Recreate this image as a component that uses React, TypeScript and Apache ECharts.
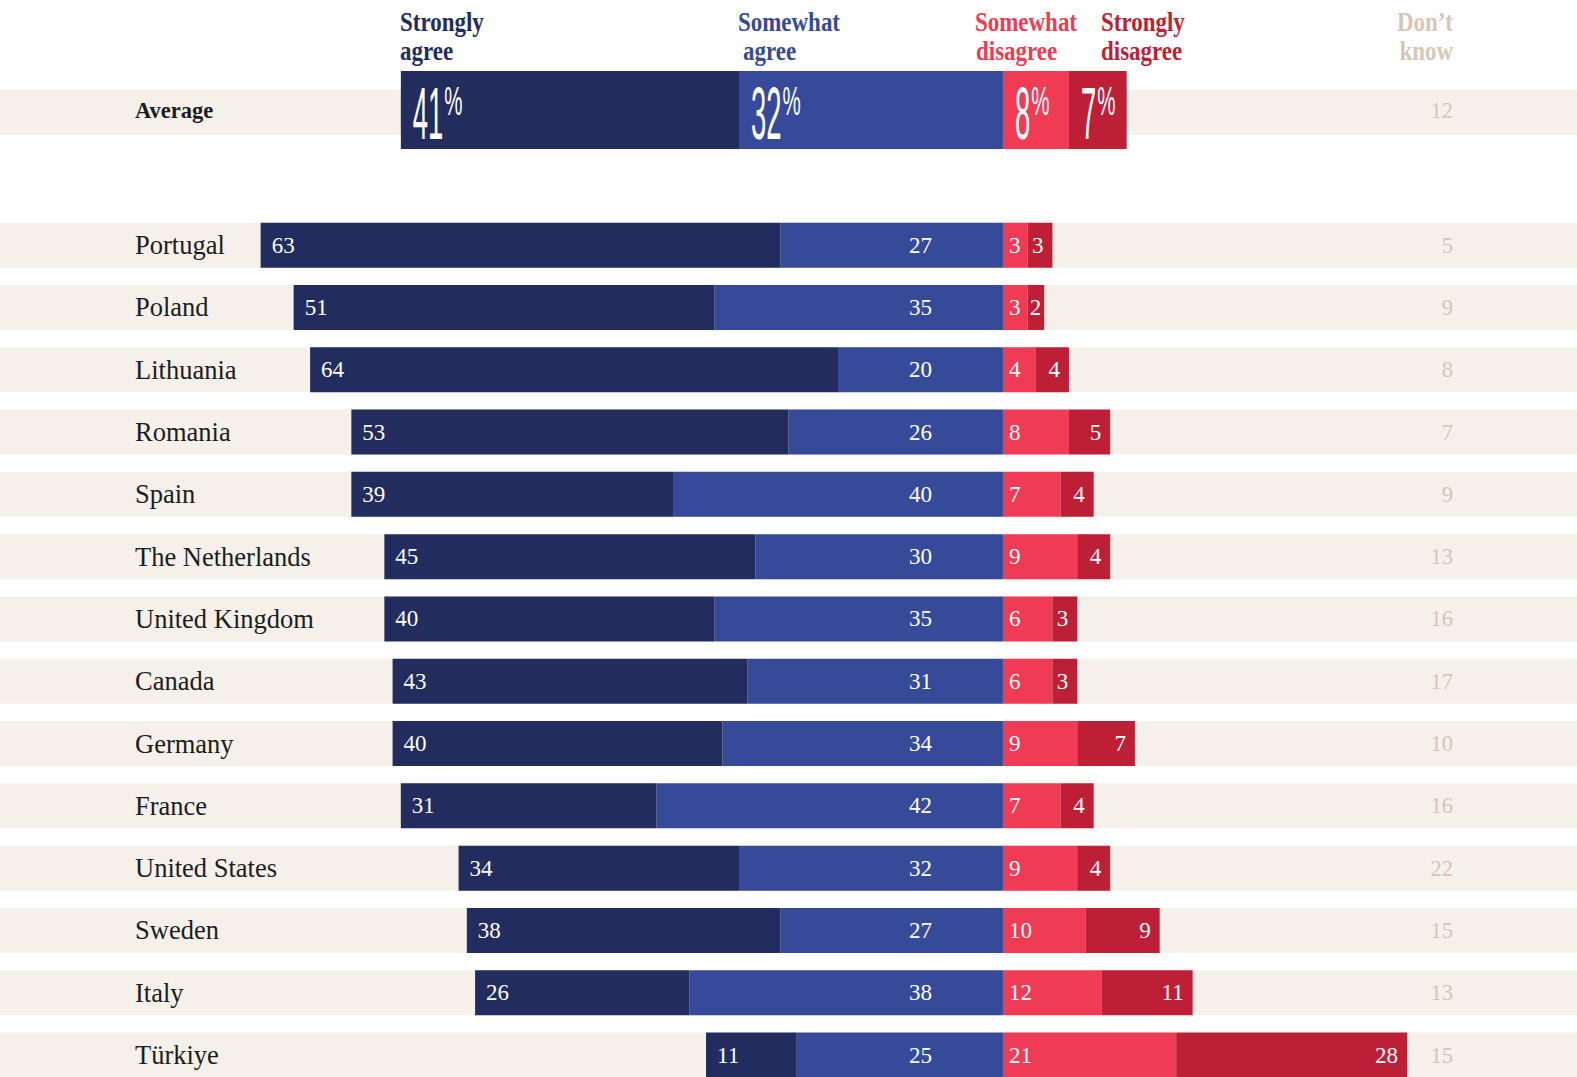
import React, { useEffect, useRef } from 'react';
import * as echarts from 'echarts';

// ---------- data ----------
const countries = [
  'Portugal', 'Poland', 'Lithuania', 'Romania', 'Spain', 'The Netherlands',
  'United Kingdom', 'Canada', 'Germany', 'France', 'United States', 'Sweden',
  'Italy', 'Türkiye',
];
const stronglyAgree = [63, 51, 64, 53, 39, 45, 40, 43, 40, 31, 34, 38, 26, 11];
const somewhatAgree = [27, 35, 20, 26, 40, 30, 35, 31, 34, 42, 32, 27, 38, 25];
const somewhatDisagree = [3, 3, 4, 8, 7, 9, 6, 6, 9, 7, 9, 10, 12, 21];
const stronglyDisagree = [3, 2, 4, 5, 4, 4, 3, 3, 7, 4, 4, 9, 11, 28];
const dontKnow = [5, 9, 8, 7, 9, 13, 16, 17, 10, 16, 22, 15, 13, 15];

const averageCategory = ['Average'];
const avgStronglyAgree = [41];
const avgSomewhatAgree = [32];
const avgSomewhatDisagree = [8];
const avgStronglyDisagree = [7];
const avgDontKnow = [12];

const headerStronglyAgree = ['Strongly', 'agree'];
const headerSomewhatAgree = ['Somewhat', 'agree'];
const headerSomewhatDisagree = ['Somewhat', 'disagree'];
const headerStronglyDisagree = ['Strongly', 'disagree'];
const headerDontKnow = ['Don\u2019t', 'know'];

// ---------- styles ----------
const C_SA = '#222c5e';
const C_SWA = '#374a9a';
const C_SWD = '#ef3b54';
const C_SD = '#bd1f37';
const C_BAND = '#f5f0ea';
const C_DK = '#d5c6b8';
const C_TEXT = '#1c1c1c';
const SERIF = '"Liberation Serif", "DejaVu Serif", serif';
const SANS = '"Liberation Sans", Arial, sans-serif';

const X_MIN = -121.6;
const X_MAX = 69.6;

const abs = (p: any) => String(Math.abs(p.value));

function buildOption() {
  const valueLabel = { show: true, color: '#ffffff', fontFamily: SERIF, fontSize: 23, formatter: abs };

  const hiddenAxisCommon = {
    axisLine: { show: false, onZero: false },
    axisTick: { show: false },
    splitLine: { show: false },
  };

  // average label segments: [left edge, category index, value]
  const avgSegs: number[][] = [];
  {
    const sa = avgStronglyAgree[0];
    const swa = avgSomewhatAgree[0];
    const swd = avgSomewhatDisagree[0];
    const sd = avgStronglyDisagree[0];
    avgSegs.push([-(sa + swa), 0, sa]);
    avgSegs.push([-swa, 0, swa]);
    avgSegs.push([0, 0, swd]);
    avgSegs.push([swd, 0, sd]);
  }

  const headerText = (text: string, x: number, y: number, color: string, align: string) => ({
    type: 'text',
    x,
    y,
    scaleX: 0.82,
    z: 10,
    style: {
      text,
      fill: color,
      fontSize: 28,
      fontWeight: 'bold',
      fontFamily: SERIF,
      align,
      textAlign: align,
      verticalAlign: 'middle',
      textVerticalAlign: 'middle',
    },
  });

  const L1 = 22.2;
  const L2 = 50.5;

  return {
    animation: false,
    backgroundColor: '#ffffff',
    grid: [
      { left: 0, right: 0, top: 71, height: 78, outerBoundsMode: 'none', containLabel: false },
      { left: 0, right: 0, top: 214, height: 872.2, outerBoundsMode: 'none', containLabel: false },
    ],
    xAxis: [
      { gridIndex: 0, type: 'value', min: X_MIN, max: X_MAX, show: false },
      { gridIndex: 1, type: 'value', min: X_MIN, max: X_MAX, show: false },
    ],
    yAxis: [
      {
        gridIndex: 0, type: 'category', data: averageCategory, inverse: true, position: 'left', z: 5,
        ...hiddenAxisCommon,
        axisLabel: { inside: true, margin: 135, align: 'left', fontFamily: SERIF, fontSize: 22.5, fontWeight: 'bold', color: C_TEXT },
      },
      {
        gridIndex: 0, type: 'category', data: averageCategory, inverse: true, position: 'right', z: 5,
        ...hiddenAxisCommon,
        axisLabel: {
          inside: true, margin: 124, align: 'right', fontFamily: SERIF, fontSize: 22.5, color: C_DK,
          padding: [5, 0, 0, 0],
          formatter: (_v: string, i: number) => String(avgDontKnow[i]),
        },
      },
      {
        gridIndex: 1, type: 'category', data: countries, inverse: true, position: 'left', z: 5,
        ...hiddenAxisCommon,
        axisLabel: { inside: true, margin: 135, align: 'left', fontFamily: SERIF, fontSize: 26.5, color: C_TEXT },
      },
      {
        gridIndex: 1, type: 'category', data: countries, inverse: true, position: 'right', z: 5,
        ...hiddenAxisCommon,
        axisLabel: {
          inside: true, margin: 124, align: 'right', fontFamily: SERIF, fontSize: 22.5, color: C_DK,
          formatter: (_v: string, i: number) => String(dontKnow[i]),
        },
      },
    ],
    graphic: [
      {
        type: 'rect', z: -1, silent: true,
        shape: { x: 0, y: 90, width: 1577, height: 45 },
        style: { fill: C_BAND },
      },
      headerText(headerStronglyAgree[0], 400, L1, C_SA, 'left'),
      headerText(headerStronglyAgree[1], 400, L2, C_SA, 'left'),
      headerText(headerSomewhatAgree[0], 738, L1, C_SWA, 'left'),
      headerText(headerSomewhatAgree[1], 743, L2, C_SWA, 'left'),
      headerText(headerSomewhatDisagree[0], 975, L1, C_SWD, 'left'),
      headerText(headerSomewhatDisagree[1], 976, L2, C_SWD, 'left'),
      headerText(headerStronglyDisagree[0], 1101, L1, C_SD, 'left'),
      headerText(headerStronglyDisagree[1], 1101, L2, C_SD, 'left'),
      headerText(headerDontKnow[0], 1453, L1, C_DK, 'right'),
      headerText(headerDontKnow[1], 1453, L2, C_DK, 'right'),
    ],
    series: [
      // ---- average row ----
      {
        type: 'bar', name: 'Somewhat agree', stack: 'avg', xAxisIndex: 0, yAxisIndex: 0, barWidth: 78,
        data: avgSomewhatAgree.map((v) => -v), itemStyle: { color: C_SWA }, silent: true,
      },
      {
        type: 'bar', name: 'Strongly agree', stack: 'avg', xAxisIndex: 0, yAxisIndex: 0, barWidth: 78,
        data: avgStronglyAgree.map((v) => -v), itemStyle: { color: C_SA }, silent: true,
      },
      {
        type: 'bar', name: 'Somewhat disagree', stack: 'avg', xAxisIndex: 0, yAxisIndex: 0, barWidth: 78,
        data: avgSomewhatDisagree, itemStyle: { color: C_SWD }, silent: true,
      },
      {
        type: 'bar', name: 'Strongly disagree', stack: 'avg', xAxisIndex: 0, yAxisIndex: 0, barWidth: 78,
        data: avgStronglyDisagree, itemStyle: { color: C_SD }, silent: true,
      },
      {
        type: 'custom', xAxisIndex: 0, yAxisIndex: 0, z: 10, silent: true,
        data: avgSegs,
        encode: { x: 0, y: 1 },
        renderItem: (_params: any, api: any) => {
          const left = api.value(0);
          const val = String(api.value(2));
          const p = api.coord([left, 0]);
          const x = p[0] + 12;
          const yc = p[1];
          const dFont = 74;
          const dScale = 0.37;
          const dw = val.length * 0.556 * dFont * dScale;
          return {
            type: 'group',
            children: [
              {
                type: 'text', x, y: yc + 3, scaleX: dScale,
                style: {
                  text: val, fill: '#ffffff', fontSize: dFont, fontFamily: SANS,
                  align: 'left', textAlign: 'left', verticalAlign: 'middle', textVerticalAlign: 'middle',
                },
              },
              {
                type: 'text', x: x + dw + 1, y: yc - 9, scaleX: 0.5,
                style: {
                  text: '%', fill: '#ffffff', fontSize: 41, fontFamily: SANS,
                  align: 'left', textAlign: 'left', verticalAlign: 'middle', textVerticalAlign: 'middle',
                },
              },
            ],
          };
        },
      },
      // ---- countries ----
      {
        type: 'bar', name: 'Somewhat agree', stack: 'c', xAxisIndex: 1, yAxisIndex: 2, barWidth: 45,
        data: somewhatAgree.map((v) => -v), itemStyle: { color: C_SWA }, silent: true,
        showBackground: true, backgroundStyle: { color: C_BAND },
        label: { ...valueLabel, position: 'insideRight', distance: 82.5, align: 'center' },
      },
      {
        type: 'bar', name: 'Strongly agree', stack: 'c', xAxisIndex: 1, yAxisIndex: 2, barWidth: 45,
        data: stronglyAgree.map((v) => -v), itemStyle: { color: C_SA }, silent: true,
        label: { ...valueLabel, position: 'insideLeft', distance: 11 },
      },
      {
        type: 'bar', name: 'Somewhat disagree', stack: 'c', xAxisIndex: 1, yAxisIndex: 2, barWidth: 45,
        data: somewhatDisagree, itemStyle: { color: C_SWD }, silent: true,
        label: { ...valueLabel, position: 'insideLeft', distance: 6 },
      },
      {
        type: 'bar', name: 'Strongly disagree', stack: 'c', xAxisIndex: 1, yAxisIndex: 2, barWidth: 45,
        data: stronglyDisagree.map((v) => ({ value: v, label: { distance: v <= 2 ? 3 : 9 } })),
        itemStyle: { color: C_SD }, silent: true,
        label: { ...valueLabel, position: 'insideRight', distance: 9 },
      },
    ],
  };
}

export default function App() {
  const ref = useRef<HTMLDivElement>(null);
  useEffect(() => {
    if (!ref.current) return;
    const chart = echarts.init(ref.current, undefined, { renderer: 'svg' });
    chart.setOption(buildOption() as any);
    return () => chart.dispose();
  }, []);
  return (
    <div
      ref={ref}
      style={{ position: 'fixed', left: 0, top: 0, width: 1577, height: 1077, background: '#fff' }}
    />
  );
}
